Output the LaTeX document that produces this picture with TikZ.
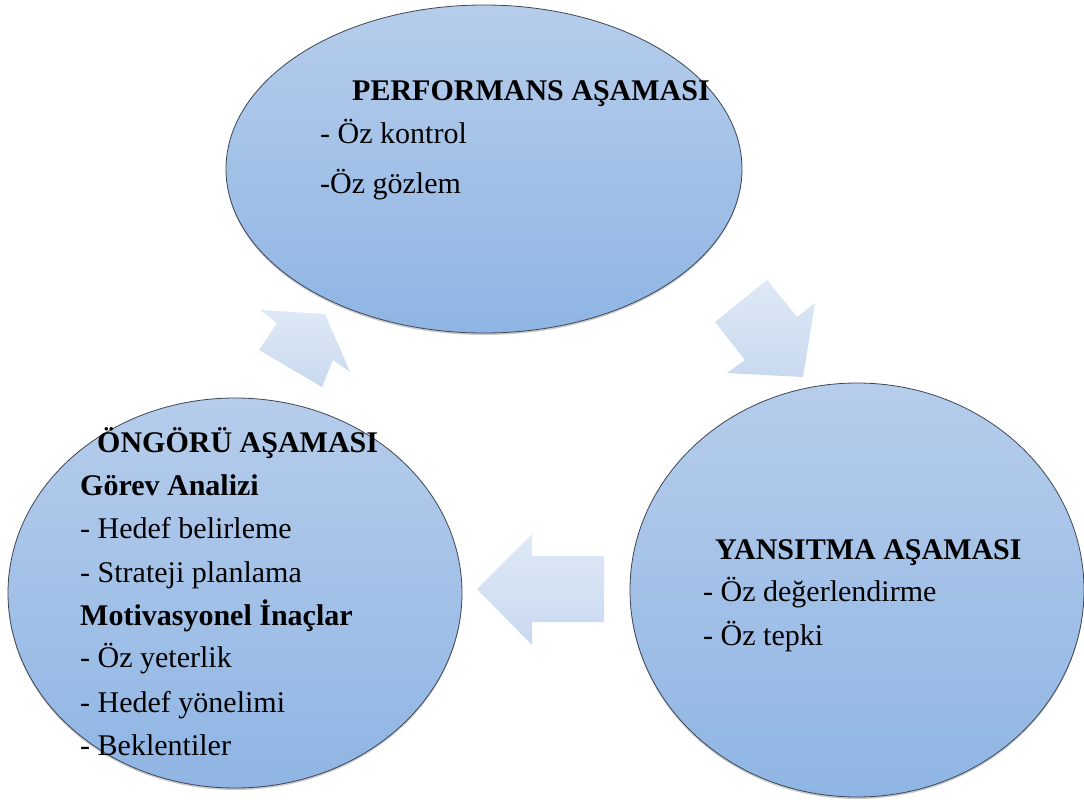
\documentclass[tikz,border=0pt]{standalone}
\usepackage{fontspec}
\setmainfont{Liberation Serif}
\usetikzlibrary{shapes.geometric,shadows}
\definecolor{ellTop}{RGB}{182,205,235}
\definecolor{ellBot}{RGB}{143,181,228}
\definecolor{arrTop}{RGB}{223,233,246}
\definecolor{arrBot}{RGB}{200,217,239}
\definecolor{edgeC}{RGB}{60,70,85}
\begin{document}
\begin{tikzpicture}[x=1pt,y=-1pt,
  phase/.style={ellipse,draw=edgeC,line width=0.8pt,inner sep=0pt,
    top color=ellTop,bottom color=ellBot,
    drop shadow={shadow xshift=0pt,shadow yshift=-2pt,opacity=0.35,fill=black!60}},
  blockarrow/.style={top color=arrTop,bottom color=arrBot,draw=none},
  title/.style={anchor=base west,inner sep=0pt,font=\fontsize{30}{35}\selectfont\bfseries},
  item/.style={anchor=base west,inner sep=0pt,font=\fontsize{30}{35}\selectfont},
  sub/.style={anchor=base west,inner sep=0pt,font=\fontsize{30}{35}\selectfont\bfseries}]
\useasboundingbox (0,0) rectangle (1084,800);
\fill[white] (0,0) rectangle (1084,800);

% block arrows
\shade[blockarrow] (260,310) -- (325,314) -- (350,372) -- (333,360) -- (322,387) -- (259,350) -- (277,323) -- cycle;
\shade[blockarrow] (767,280) -- (797,317) -- (815,303) -- (803,377) -- (727,373) -- (745,360) -- (715,322) -- cycle;
\shade[blockarrow] (477,589) -- (532,534) -- (532,556) -- (604,556) -- (604,622) -- (532,622) -- (532,645) -- cycle;

% phases
\node[phase,minimum width=516pt,minimum height=328pt] (perf) at (484,169) {};
\node[phase,minimum width=454pt,minimum height=390pt] (ongoru) at (235,593) {};
\node[phase,minimum width=454pt,minimum height=414pt] (yans) at (857,590) {};

% texts: performans
\node[title] (pt) at (352,100) {PERFORMANS AŞAMASI};
\node[item] (p1) at (320,143) {- Öz kontrol};
\node[item] (p2) at (320,193) {-Öz gözlem};

% texts: ongoru
\node[title] (ot) at (97,452) {ÖNGÖRÜ AŞAMASI};
\node[sub] (o1) at (80,495) {Görev Analizi};
\node[item] (o2) at (80,538) {- Hedef belirleme};
\node[item] (o3) at (80,582) {- Strateji planlama};
\node[sub] (o4) at (80,625) {Motivasyonel İnaçlar};
\node[item] (o5) at (80,667) {- Öz yeterlik};
\node[item] (o6) at (80,712) {- Hedef yönelimi};
\node[item] (o7) at (80,755) {- Beklentiler};

% texts: yansitma
\node[title] (yt) at (715,559) {YANSITMA AŞAMASI};
\node[item] (y1) at (703,601) {- Öz değerlendirme};
\node[item] (y2) at (703,645) {- Öz tepki};
\end{tikzpicture}
\end{document}
